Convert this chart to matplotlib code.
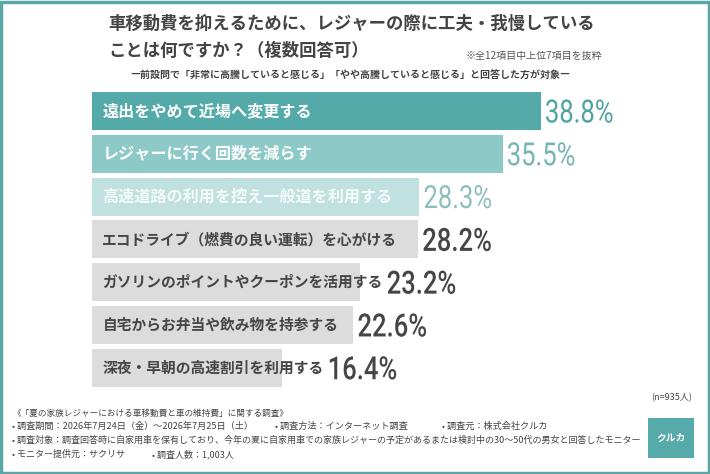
import matplotlib
matplotlib.use("Agg")
import matplotlib.pyplot as plt
from matplotlib.patches import Rectangle, PathPatch
from matplotlib.textpath import TextPath
from matplotlib.font_manager import FontProperties
from matplotlib.transforms import Affine2D, IdentityTransform

plt.rcParams['font.family'] = ['Noto Sans CJK JP', 'DejaVu Sans']

# data
items = ['遠出をやめて近場へ変更する',
         'レジャーに行く回数を減らす',
         '高速道路の利用を控え一般道を利用する',
         'エコドライブ（燃費の良い運転）を心がける',
         'ガソリンのポイントやクーポンを活用する',
         '自宅からお弁当や飲み物を持参する',
         '深夜・早朝の高速割引を利用する']
values = [38.8, 35.5, 28.3, 28.2, 23.2, 22.6, 16.4]

bar_colors = ['#54aaa9', '#8cc9c7', '#c0e1e0', '#dcdcdc', '#dcdcdc', '#dcdcdc', '#dcdcdc']
label_colors = ['white', 'white', '#f4fafa', '#454545', '#454545', '#454545', '#454545']
label_sizes = [11.6, 11.6, 11.6, 10.6, 10.6, 10.6, 10.6]
value_colors = ['#4fa3a2', '#72b5b3', '#8fbfbd', '#454545', '#454545', '#454545', '#454545']
value_weights = ['normal', 'normal', 'normal', 'medium', 'medium', 'medium', 'medium']

W, H = 710, 474
fig = plt.figure(figsize=(W / 100, H / 100), dpi=100)
fig.patch.set_facecolor('white')

# outer frame
fig.patches.append(Rectangle((1.5 / W, 1.5 / H), 1 - 3 / W, 1 - 3 / H, transform=fig.transFigure,
                             fill=False, edgecolor='#5aa7a6', linewidth=2.5))

# title
fig.text(108 / W, 1 - 24 / H, '車移動費を抑えるために、レジャーの際に工夫・我慢している',
         fontsize=12.5, fontweight='bold', color='#444444', va='center', ha='left')
fig.text(108 / W, 1 - 51 / H, 'ことは何ですか？（複数回答可）',
         fontsize=12.5, fontweight='bold', color='#444444', va='center', ha='left')
fig.text(602 / W, 1 - 56 / H, '※全12項目中上位7項目を抜粋',
         fontsize=7.2, color='#555555', va='center', ha='right')
fig.text(350 / W, 1 - 76 / H, '―前設問で「非常に高騰していると感じる」「やや高騰していると感じる」と回答した方が対象―',
         fontsize=7.2, color='#444444', va='center', ha='center', fontweight='bold')

# bars
ax = fig.add_axes([92 / W, 1 - 390 / H, 608 / W, 300 / H])
ax.set_xlim(0, 608 / 11.57)
ax.set_ylim(6.52, -0.49)
ax.axis('off')
pos = list(range(len(values)))
ax.barh(pos, values, height=0.89, color=bar_colors)

fig.canvas.draw()
renderer = fig.canvas.get_renderer()
for i, (name, v) in enumerate(zip(items, values)):
    t = ax.text(0.9, i, name, fontsize=label_sizes[i], fontweight='bold', color=label_colors[i],
                va='center', ha='left')
    ext = t.get_window_extent(renderer)
    bar_end = ax.transData.transform((v, i))
    x_px = max(bar_end[0], ext.x1) + 4
    y_px = bar_end[1] - 11.5
    # condensed-looking percentage, drawn as a squeezed text path
    num_font = FontProperties(family='Roboto', weight=value_weights[i])
    tp = TextPath((0, 0), f'{v:.1f}%', size=32, prop=num_font)
    tr = Affine2D().scale(0.8, 1.0).translate(x_px, y_px) + IdentityTransform()
    fig.patches.append(PathPatch(tp, transform=tr, facecolor=value_colors[i], edgecolor='none'))

# footer
fig.text(692 / W, 1 - 398 / H, '(n=935人)', fontsize=6.5, color='#444444', ha='right', va='center')
foot = ['《「夏の家族レジャーにおける車移動費と車の維持費」に関する調査》',
        '• 調査期間：2026年7月24日（金）～2026年7月25日（土）',
        '• 調査対象：調査回答時に自家用車を保有しており、今年の夏に自家用車での家族レジャーの予定があるまたは検討中の30～50代の男女と回答したモニター',
        '• モニター提供元：サクリサ']
foot_y = [413, 426, 440, 454]
foot_fs = [6.2, 6.6, 6.5, 6.5]
for s, y, f in zip(foot, foot_y, foot_fs):
    fig.text(12 / W, 1 - y / H, s, fontsize=f, color='#444444', ha='left', va='center')
fig.text(275 / W, 1 - 426 / H, '• 調査方法：インターネット調査', fontsize=6.6, color='#444444', ha='left', va='center')
fig.text(442 / W, 1 - 426 / H, '• 調査元：株式会社クルカ', fontsize=6.6, color='#444444', ha='left', va='center')
fig.text(152 / W, 1 - 454 / H, '• 調査人数：1,003人', fontsize=6.5, color='#444444', ha='left', va='center')

# logo
fig.patches.append(Rectangle((648 / W, 1 - 458 / H), 46 / W, 40 / H, transform=fig.transFigure,
                             facecolor='#56aaa9', edgecolor='none'))
fig.text(671 / W, 1 - 438 / H, 'クルカ', fontsize=7, color='white', style='italic',
         fontweight='bold', ha='center', va='center')

fig.savefig('out.png', dpi=100)
